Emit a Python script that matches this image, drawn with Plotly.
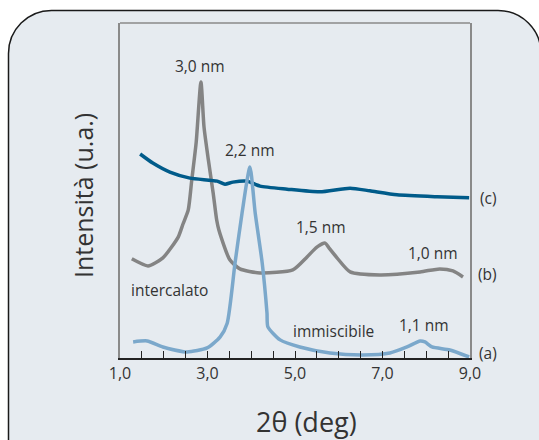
import plotly.graph_objects as go

# ---- data (2θ in degrees, intensity in arbitrary units) ----
theta_c = [1.46, 1.75, 2.14, 2.60, 3.22, 3.40, 3.58, 3.90, 4.20, 4.82, 5.57, 6.26, 6.71, 7.33, 8.25, 8.98]
int_c   = [60.9, 58.2, 55.5, 53.7, 52.8, 51.9, 52.5, 52.8, 51.3, 50.4, 49.6, 50.7, 49.9, 48.7, 48.1, 47.8]

theta_b = [1.27, 1.64, 1.98, 2.33, 2.44, 2.56, 2.64, 2.74, 2.85, 2.92, 3.02, 3.13, 3.21, 3.26,
           3.51, 3.74, 4.20, 4.95, 5.27, 5.50, 5.69, 5.78, 5.96, 6.26, 6.94, 7.86, 8.31, 8.61, 8.84]
int_b   = [29.6, 27.5, 29.9, 36.1, 40.0, 44.2, 53.1, 64.2, 82.4, 69.0, 59.1, 49.2, 41.2, 38.2,
           29.3, 26.6, 25.4, 26.3, 30.1, 33.1, 34.3, 32.8, 29.9, 25.7, 24.8, 25.7, 26.6, 26.0, 24.2]

theta_a = [1.30, 1.62, 1.98, 2.53, 2.99, 3.29, 3.45, 3.63, 3.79, 3.97, 4.09, 4.25, 4.36, 4.38,
           4.66, 5.11, 5.80, 6.55, 7.17, 7.56, 7.86, 7.97, 8.13, 8.54, 8.98]
int_a   = [4.8, 5.1, 3.3, 1.8, 3.0, 6.3, 10.4, 28.4, 43.3, 57.0, 43.3, 28.4, 13.4, 9.3,
           5.4, 3.3, 1.5, 0.9, 1.5, 3.3, 5.1, 4.8, 3.3, 2.4, 0.3]

tick_vals = [1.0, 1.5, 2.0, 2.5, 3.0, 3.5, 4.0, 4.5, 5.0, 5.5, 6.0, 6.5, 7.0, 7.5, 8.0, 8.5, 9.0]
tick_text = ["1,0", "", "", "", "3,0", "", "", "", "5,0", "", "", "", "7,0", "", "", "", "9,0"]

labels_text = ["3,0 nm", "2,2 nm", "1,5 nm", "1,0 nm", "1,1 nm", "intercalato", "immiscibile"]
labels_x    = [2.83, 3.97, 5.59, 8.15, 7.95, 2.12, 5.87]
labels_y    = [87.3, 62.1, 39.1, 31.2, 10.0, 20.3, 8.2]

series_text = ["(c)", "(b)", "(a)"]
series_x    = [9.42, 9.41, 9.41]
series_y    = [47.9, 25.1, 1.5]

# ---- figure ----
W, H = 539, 440
ML, MR, MT, MB = 120, 69, 23, 82
PW, PH = W - ML - MR, H - MT - MB
XR = [1, 9]
FONT = "Open Sans"
TXT = "#333333"

fig = go.Figure()
line_common = dict(width=3.5, shape="spline", smoothing=0.6)
fig.add_trace(go.Scatter(x=theta_b, y=int_b, mode="lines",
                         line=dict(color="#848484", **line_common), hoverinfo="skip"))
fig.add_trace(go.Scatter(x=theta_c, y=int_c, mode="lines",
                         line=dict(color="#005b8a", **line_common), hoverinfo="skip"))
fig.add_trace(go.Scatter(x=theta_a, y=int_a, mode="lines",
                         line=dict(color="#7ba8cb", **line_common), hoverinfo="skip"))

for t, x, y in zip(labels_text, labels_x, labels_y):
    fig.add_annotation(x=x, y=y, xref="x", yref="y", text=t, showarrow=False,
                       xanchor="center", yanchor="middle",
                       font=dict(family=FONT, size=15.5, color=TXT))

# series labels sit to the right of the axis range -> x in paper units
for t, x, y in zip(series_text, series_x, series_y):
    fig.add_annotation(x=(x - XR[0]) / (XR[1] - XR[0]), y=y, xref="paper", yref="y",
                       text=t, showarrow=False, xanchor="center", yanchor="middle",
                       font=dict(family=FONT, size=15.5, color=TXT))

# axis titles
fig.add_annotation(xref="paper", yref="paper", x=(306 - ML) / PW, y=(H - MB - 421) / PH,
                   text="2θ (deg)", showarrow=False, xanchor="center", yanchor="middle",
                   font=dict(family=FONT, size=27, color=TXT))
fig.add_annotation(xref="paper", yref="paper", x=(83 - ML) / PW, y=(H - MB - 196) / PH,
                   text="Intensità (u.a.)", showarrow=False, textangle=-90,
                   xanchor="center", yanchor="middle",
                   font=dict(family=FONT, size=25, color=TXT))

# rounded background panel
def fx(px):
    return (px - ML) / PW

def fy(py):
    return (H - MB - py) / PH

L, T, R, B, r = 8.5, 10.5, 541, 480, 43
k = 0.5523 * r
path = (f"M {fx(L)},{fy(B)} L {fx(L)},{fy(T + r)} "
        f"C {fx(L)},{fy(T + r - k)} {fx(L + r - k)},{fy(T)} {fx(L + r)},{fy(T)} "
        f"L {fx(R - r)},{fy(T)} "
        f"C {fx(R - r + k)},{fy(T)} {fx(R)},{fy(T + r - k)} {fx(R)},{fy(T + r)} "
        f"L {fx(R)},{fy(B)} Z")
fig.add_shape(type="path", path=path, xref="paper", yref="paper", layer="below",
              fillcolor="#e6ebf0", line=dict(color="#1a1a1a", width=1.5))
fig.add_shape(type="line", xref="paper", yref="paper", x0=0, x1=1, y0=1, y1=1,
              line=dict(color="#8a8a8a", width=1.5), layer="above")

fig.update_layout(
    width=W, height=H,
    margin=dict(l=ML, r=MR, t=MT, b=MB, pad=0),
    paper_bgcolor="white", plot_bgcolor="rgba(0,0,0,0)",
    showlegend=False,
    font=dict(family=FONT, color=TXT),
)
fig.update_xaxes(range=XR, showgrid=False, zeroline=False,
                 showline=True, linecolor="#222222", linewidth=1.5,
                 ticks="inside", ticklen=7, tickwidth=1, tickcolor="#222222",
                 tickmode="array", tickvals=tick_vals, ticktext=tick_text,
                 tickfont=dict(family=FONT, size=16, color=TXT))
fig.update_yaxes(range=[0, 100], showgrid=False, zeroline=False,
                 showline=True, linecolor="#8a8a8a", linewidth=1.5, mirror=True,
                 showticklabels=False, ticks="")

fig.write_html("out.html")
